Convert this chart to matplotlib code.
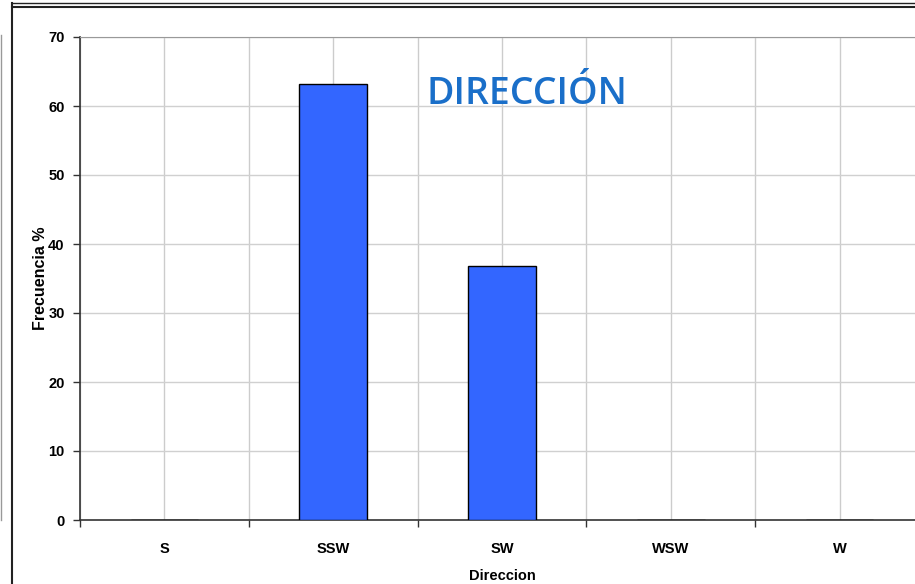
import numpy as np
import matplotlib.pyplot as plt
from matplotlib.lines import Line2D

categorias = ['S', 'SSW', 'SW', 'WSW', 'W']
frecuencia = [0.0, 63.2, 36.8, 0.0, 0.0]
yticks = [0, 10, 20, 30, 40, 50, 60, 70]

plt.rcParams['font.family'] = ['Liberation Sans', 'DejaVu Sans']

fig = plt.figure(figsize=(9.15, 5.84), dpi=100)
ax = fig.add_axes([80/915, 64/584, 844/915, 483/584])

x = np.arange(len(categorias))
ax.bar(x, frecuencia, width=0.4, color='#3366FF', edgecolor='black', linewidth=1, zorder=3)

ax.set_xlim(-0.5, len(categorias) - 0.5)
ax.set_ylim(0, 70)
ax.set_yticks(yticks)
ax.set_yticklabels([str(v) for v in yticks], fontsize=10.5, fontweight='bold')

# ticks at category boundaries, labels at centres
ax.set_xticks(np.arange(-0.5, len(categorias), 1.0))
ax.set_xticklabels([])
ax.set_xticks(x, minor=True)
ax.set_xticklabels(categorias, minor=True, fontsize=10.5, fontweight='bold')
ax.tick_params(axis='x', which='minor', length=0, pad=16)
ax.tick_params(axis='x', which='major', length=5, width=1, color='#333333', direction='out')
ax.tick_params(axis='y', length=5, width=1, color='#333333', direction='out', pad=6)

# grid every half category and every 10 units
for gx in np.arange(-0.5, len(categorias), 0.5):
    ax.axvline(gx, color='#cccccc', linewidth=1, zorder=1)
for gy in yticks[1:]:
    ax.axhline(gy, color='#d0d0d0', linewidth=1, zorder=1)

ax.spines['right'].set_visible(False)
ax.spines['top'].set_color('#999999')
ax.spines['left'].set_color('#333333')
ax.spines['bottom'].set_color('#333333')
ax.spines['left'].set_linewidth(1.2)
ax.spines['bottom'].set_linewidth(1.2)

ax.set_ylabel('Frecuencia %', fontsize=11.5, fontweight='bold', labelpad=0)
ax.set_xlabel('Direccion', fontsize=10.5, fontweight='bold', labelpad=9)

ax.text(0.41, 0.882, 'DIRECCIÓN', transform=ax.transAxes, fontsize=27,
        color='#1a6fc9', family=['Open Sans', 'DejaVu Sans'], fontweight='semibold',
        ha='left', va='center', zorder=4)

# outer frame of the screenshot
fig.add_artist(Line2D([12/915, 1], [1 - 3/584, 1 - 3/584], color='#222222', linewidth=1))
fig.add_artist(Line2D([12/915, 1], [1 - 7/584, 1 - 7/584], color='#222222', linewidth=1.5))
fig.add_artist(Line2D([12/915, 12/915], [0, 1 - 3/584], color='#222222', linewidth=1.5))
fig.add_artist(Line2D([1/915, 1/915], [64/584, 1 - 35/584], color='#999999', linewidth=1))

fig.savefig('out.png', dpi=100)
